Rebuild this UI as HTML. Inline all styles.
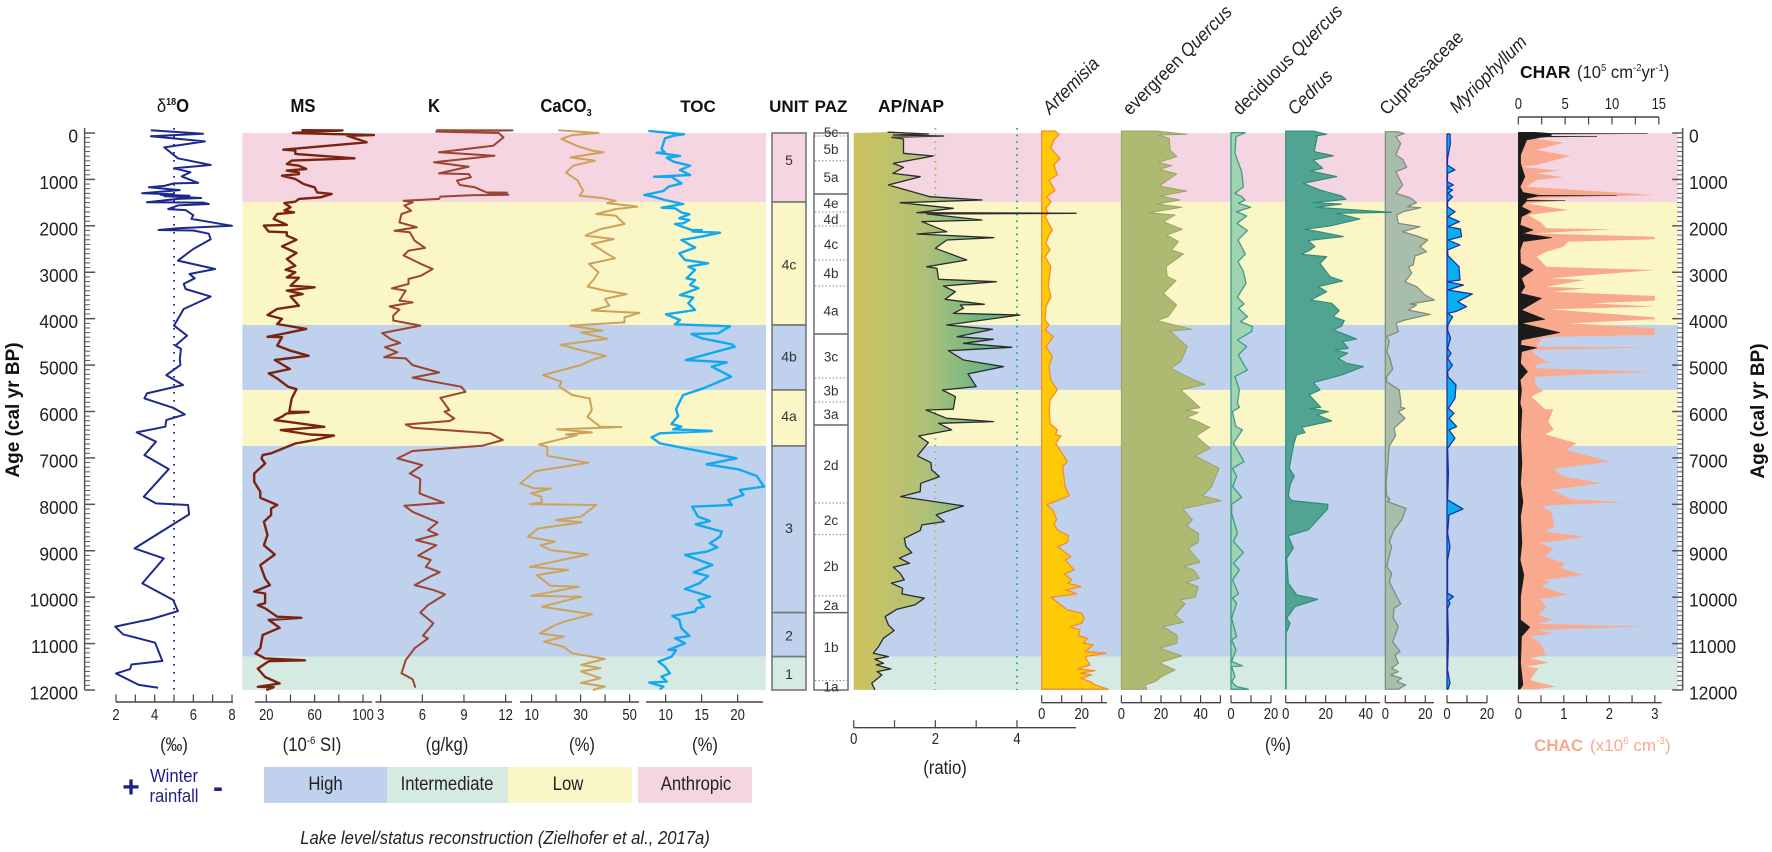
<!DOCTYPE html>
<html lang="en">
<head>
<meta charset="utf-8">
<title>Lake record multi-proxy diagram</title>
<style>
html,body{margin:0;padding:0;background:#fff;}
svg{display:block;font-family:"Liberation Sans",sans-serif;}
</style>
</head>
<body>
<svg id="chart" width="1772" height="852" viewBox="0 0 1772 852" xmlns="http://www.w3.org/2000/svg">
<defs>
<linearGradient id="apGrad" gradientUnits="userSpaceOnUse" x1="854" y1="0" x2="995" y2="0">
<stop offset="0" stop-color="#cfc25e"/><stop offset="0.5" stop-color="#b0c178"/><stop offset="1" stop-color="#5fb388"/>
</linearGradient>
</defs>
<g id="bands"></g>
<g id="marks"></g>
<g id="axes"></g>

<g fill="#111" text-anchor="middle" font-weight="bold" font-size="18.5">
<text transform="translate(173,112) scale(.9,1)"><tspan font-weight="normal">δ</tspan><tspan font-size="10" dy="-7">18</tspan><tspan dy="7">O</tspan></text>
<text transform="translate(303,112) scale(.9,1)">MS</text>
<text transform="translate(434,112) scale(.9,1)">K</text>
<text transform="translate(566,112) scale(.9,1)">CaCO<tspan font-size="10" dy="4">3</tspan></text>
<text x="698" y="112" font-size="17">TOC</text>
<text x="789" y="112" font-size="17">UNIT</text>
<text x="831" y="112" font-size="17">PAZ</text>
<text x="911" y="112" font-size="17.5">AP/NAP</text>
</g>

<g fill="#222" font-style="italic" font-size="18.5">
<text transform="translate(1050,115) rotate(-45) scale(.92,1)">Artemisia</text>
<text transform="translate(1130,116) rotate(-45) scale(.92,1)"><tspan font-style="normal">evergreen </tspan>Quercus</text>
<text transform="translate(1240,116) rotate(-45) scale(.92,1)"><tspan font-style="normal">deciduous </tspan>Quercus</text>
<text transform="translate(1295,116) rotate(-45) scale(.92,1)">Cedrus</text>
<text font-style="normal" transform="translate(1387,116) rotate(-45) scale(.92,1)">Cupressaceae</text>
<text transform="translate(1457,114) rotate(-45) scale(.92,1)">Myriophyllum</text>
</g>

<text x="1520" y="78" font-size="17.5" font-weight="bold" fill="#111">CHAR</text>
<text transform="translate(1577,78) scale(.95,1)" font-size="17.5" fill="#222">(10<tspan font-size="10" dy="-7">5</tspan><tspan dy="7"> cm</tspan><tspan font-size="10" dy="-7">-2</tspan><tspan dy="7">yr</tspan><tspan font-size="10" dy="-7">-1</tspan><tspan dy="7">)</tspan></text>

<text transform="translate(19,410) rotate(-90)" text-anchor="middle" font-size="19" font-weight="bold" fill="#111">Age (cal yr BP)</text>
<text transform="translate(1764,411) rotate(-90)" text-anchor="middle" font-size="19" font-weight="bold" fill="#111">Age (cal yr BP)</text>

<g fill="#222" text-anchor="middle" font-size="19">
<text transform="translate(174,751) scale(.88,1)">(‰)</text>
<text transform="translate(312,751) scale(.88,1)">(10<tspan font-size="11" dy="-7">-6</tspan><tspan dy="7"> SI)</tspan></text>
<text transform="translate(447,751) scale(.88,1)">(g/kg)</text>
<text transform="translate(582,751) scale(.88,1)">(%)</text>
<text transform="translate(705,751) scale(.88,1)">(%)</text>
<text transform="translate(1278,751) scale(.88,1)">(%)</text>
<text transform="translate(945,774) scale(.88,1)">(ratio)</text>
</g>
<text x="1534" y="751" font-size="17" font-weight="bold" fill="#f9a98e">CHAC</text>
<text x="1590" y="751" font-size="17" fill="#f9a98e">(x10<tspan font-size="10" dy="-7">6</tspan><tspan dy="7"> cm</tspan><tspan font-size="10" dy="-7">-3</tspan><tspan dy="7">)</tspan></text>

<g fill="#1f1f8a" text-anchor="middle">
<text x="131" y="797" font-size="30" font-weight="bold">+</text>
<text transform="translate(174,782) scale(.9,1)" font-size="18.5">Winter</text>
<text transform="translate(174,802) scale(.9,1)" font-size="18.5">rainfall</text>
<text x="218" y="797" font-size="30" font-weight="bold">-</text>
</g>

<g>
<rect x="264" y="767" width="123" height="36" fill="#bfd1ec"/>
<rect x="387" y="767" width="121" height="36" fill="#d6eae4"/>
<rect x="508" y="767" width="124" height="36" fill="#fbf6c6"/>
<rect x="638" y="767" width="114" height="36" fill="#f6d5e2"/>
<g fill="#222" text-anchor="middle" font-size="19">
<text transform="translate(325.5,790) scale(.88,1)">High</text>
<text transform="translate(447,790) scale(.88,1)">Intermediate</text>
<text transform="translate(568,790) scale(.88,1)">Low</text>
<text transform="translate(696,790) scale(.88,1)">Anthropic</text>
</g>
</g>
<text transform="translate(505,844) scale(.9,1)" text-anchor="middle" font-size="18.5" font-style="italic" fill="#222">Lake level/status reconstruction (Zielhofer et al., 2017a)</text>
</svg>

<script>
// ---------- chart data ----------
const bandStarts=[0,1486,4136,5536,6742,11281];
const bandEnds=[1486,4136,5536,6742,11281,12000];
const bandLevels=['anthropic','low','high','low','high','intermediate'];
const ageTicks=[0,1000,2000,3000,4000,5000,6000,7000,8000,9000,10000,11000,12000];

const unitStarts=[0,1486,4136,5536,6742,10333,11281];
const unitEnds=[1486,4136,5536,6742,10333,11281,12000];
const unitLabels=['5','4c','4b','4a','3','2','1'];
const unitLabelAges=[580,2830,4820,6100,8510,10830,11650];
const unitLevels=['anthropic','low','high','low','high','high','intermediate'];

const pazSolid=[1314,4330,6290,10333];
const pazDotted=[65,597,1702,2003,2736,3296,5277,5794,7970,8653,9973,11798];
const pazLabels=['5c','5b','5a','4e','4d','4c','4b','4a','3c','3b','3a','2d','2c','2b','2a','1b','1a'];
const pazLabelAges=[-20,340,950,1508,1852,2391,3016,3828,4819,5551,6053,7151,8336,9327,10167,11072,11927];

const d18oAges=[-60,15,70,180,310,545,690,760,845,935,
1075,1085,1140,1170,1230,1300,1320,1330,1350,1360,
1400,1420,1490,1500,1530,1560,1640,1660,1770,1850,
1900,2000,2050,2090,2100,2170,2290,2500,2750,2930,
3037,3130,3252,3360,3525,3791,4150,4365,4580,4652,
4868,5000,5215,5430,5610,5718,5920,6063,6185,6328,
6450,6650,6940,7240,7836,7980,8015,8216,8950,9165,
9703,10062,10300,10470,10635,10800,10980,11375,11450,11550,
11645,11890,11950];
const d18oValues=[3.8,6.5,3.8,6.6,4.5,5.2,6.9,5.0,5.85,5.4,
6.25,5.0,4.5,3.7,5.3,3.35,5.0,4.3,5.8,4.5,
6.4,5.2,3.6,6.5,6.8,5.2,4.7,5.6,6.0,5.9,
6.6,8.0,5.2,4.2,6.0,6.8,6.9,6.0,5.2,7.13,
5.8,6.07,5.5,5.6,6.9,5.5,5.0,5.67,5.07,5.36,
5.3,5.33,4.6,5.47,3.6,3.47,4.96,5.56,4.6,4.55,
3.07,4.07,3.47,4.73,3.44,4.07,5.73,5.78,2.96,4.47,
3.36,4.96,5.2,3.84,1.96,2.36,4.02,4.4,2.8,2.73,
2.0,3.18,4.18];

const msAges=[-60,-55,0,45,60,200,240,360,380,450,
525,545,595,670,705,775,810,850,885,920,
990,1100,1170,1280,1315,1385,1420,1480,1510,1600,
1670,1710,1745,1850,1980,1995,2125,2140,2210,2300,
2440,2585,2715,2860,2945,3000,3110,3120,3290,3325,
3395,3470,3520,3720,3790,3920,4005,4115,4220,4330,
4390,4400,4580,4690,4800,4890,5085,5180,5290,5465,
5520,5720,6005,6010,6040,6110,6185,6255,6330,6400,
6495,6520,6615,6690,6900,6940,7010,7120,7335,7515,
7730,7860,8015,8090,8230,8375,8660,8880,9080,9310,
9595,9740,9880,9920,10130,10170,10240,10420,10445,10490,
10660,10815,11100,11210,11320,11360,11380,11540,11720,11860,
11930,11940,12000];
const msValues=[49,83,42,109,87,103,87,34,44,44,
83,93,41,37,47,53,37,47,47,33,
44,51,60,62,74,65,47,44,35,40,
35,43,29,26,37,18,22,37,37,45,
33,45,37,44,36,44,37,47,40,60,
37,50,40,47,29,21,33,29,53,33,
21,33,29,40,55,27,39.5,22,29,38,
45,41,39,55,37,33,27,47,68,32,
56,76,60,44,24,17,16,19,10,10,
15,15,29,24,24,18,21,18,27,15,
19,23,10,19,19,13,19,29,49,22,
31,17,15,11,19,52,22,13,19,31,
13,26,20];

const kAges=[-60,-55,-30,0,95,275,415,490,630,725,
775,870,885,955,1025,1120,1170,1280,1285,1315,
1330,1340,1370,1420,1460,1495,1565,1675,1745,1925,
2030,2105,2140,2320,2475,2535,2640,2820,2930,3075,
3145,3250,3345,3395,3610,3650,3735,3805,3935,4040,
4150,4310,4435,4525,4615,4725,4830,4855,5000,5160,
5270,5360,5465,5575,5705,5970,6005,6150,6205,6280,
6350,6470,6615,6740,6850,7010,7155,7335,7455,7765,
7965,8030,8160,8390,8555,8650,8770,8880,9105,9200,
9345,9465,9560,9740,9850,9940,10170,10330,10565,10830,
10890,11100,11355,11640,11770,11950];
const kValues=[7.0,12.5,7.0,11.5,11.85,11.1,7.2,11.2,6.85,9.35,
8.6,7.2,9.35,9.5,8.5,8.7,9.8,10.6,12.1,10.75,
12.2,9.5,7.3,7.2,4.65,5.3,4.7,5.2,4.5,4.35,
5.6,4.0,5.1,5.45,6.2,5.0,4.65,5.9,6.75,5.9,
5.0,5.0,3.8,4.8,4.35,5.3,3.65,4.35,3.9,3.9,
5.85,3.1,3.7,4.4,3.3,4.2,3.25,4.8,5.3,7.2,
5.3,6.85,8.8,9.1,7.3,7.95,7.6,8.3,7.95,4.8,
5.3,10.9,11.8,10.3,5.3,4.2,6.0,5.1,5.85,5.8,
7.55,4.7,5.3,7.1,6.4,7.1,5.55,7.0,5.7,6.6,
6.25,7.25,6.55,5.45,6.85,7.65,6.4,5.85,6.8,6.05,
6.4,5.45,4.8,4.5,5.3,5.5];

const caco3Ages=[-60,0,45,130,275,380,415,525,595,705,
850,1025,1240,1350,1400,1460,1510,1585,1640,1745,
1780,1960,2070,2210,2285,2390,2570,2700,2820,3000,
3145,3310,3395,3470,3575,3720,3825,3875,3970,4080,
4150,4260,4295,4435,4560,4690,4800,4890,5000,5215,
5360,5465,5645,5720,5970,6115,6330,6335,6385,6450,
6495,6510,6710,6760,6955,7105,7285,7550,7655,7660,
7765,7835,7960,7995,8015,8265,8340,8390,8520,8700,
8805,8880,8985,9080,9345,9415,9525,9755,9775,9970,
9990,10205,10370,10530,10600,10780,10850,10960,11070,11210,
11330,11460,11530,11600,11745,11850,11925,12000];
const caco3Values=[20.8,37.3,26.6,22.2,28.4,34.6,39.4,25.8,35.8,27,
24,28.8,31,29.6,39,44.3,40.8,53.2,44.3,36.4,
44.3,47.9,38.1,32,43.5,34.6,39.9,44,33.4,37.3,
35.5,32.8,39.9,48.8,39.9,41.7,34.6,54,47.9,47.9,
25.8,39,30.2,40.8,21.7,31,40.4,34.6,30,14.6,
22.2,21.3,26.6,33.7,34.6,32.8,38.1,46.6,20.4,34.6,
24,28.4,13,16.4,16.4,33.2,11.6,5.4,11,17.8,
9.8,13.9,14.3,9.3,36.4,30.2,19.9,30.5,12.5,8.6,
19.6,13.7,17.8,32.8,9.3,24.9,12.1,17.8,29.3,9.8,
30.2,14.3,34.6,23.1,19.6,13.4,23.1,15.1,23.1,26.6,
39.9,30.2,38.1,30.2,38.1,30.2,39.9,35];

const tocAges=[-45,-14,29,58,115,345,417,424,496,532,
618,704,797,905,941,945,1085,1156,1250,1336,
1372,1444,1530,1610,1623,1710,1752,1838,1874,1946,
1960,2090,2095,2125,2147,2233,2305,2470,2592,2736,
2808,2880,2950,3130,3167,3275,3346,3490,3547,3670,
3813,3870,3906,4028,4122,4165,4315,4330,4423,4553,
4603,4890,4940,5034,5249,5500,5644,5716,5953,6096,
6270,6326,6383,6420,6470,6556,6685,7008,7137,7245,
7389,7618,7690,7798,7906,8013,8050,8265,8358,8430,
8588,8695,8839,8925,9020,9090,9306,9464,9543,9700,
9823,9988,10060,10203,10239,10311,10404,10490,10670,10835,
10885,10993,11137,11140,11280,11388,11495,11640,11711,11818,
11840,11927,11984];
const tocValues=[7.6,9.9,12.55,11.1,9.9,9.45,9.9,8.75,12,10.15,
11.1,13.4,12,13.4,8.4,10.85,12.2,10.4,9.7,7.05,
8.3,9.9,12.45,9.45,11.3,12.2,13.3,11.9,13.3,12.45,
11.3,13.6,15,13.75,17.55,15,12.2,14.1,11.9,12.7,
15.9,13.15,14.1,12.9,14.1,13.4,14.55,12,13.85,13.15,
14.1,11.75,10.05,12,11.3,18.95,17.3,13.6,15,19.2,
19.6,12.8,18.5,16.4,19.1,15.25,12.45,12.2,11.45,11.75,
10.8,12.2,11.05,16.4,9.2,8.06,9.2,19.85,15.7,20.1,
22.65,23.65,20.3,20.8,18.7,19.2,13.7,14.5,16.15,14.2,
17.8,17.55,16.15,17.2,15.7,12.7,16.5,13.9,15.9,14.7,
12.7,16.2,14.55,15.3,14.3,14.1,10.95,11.9,12.2,13.3,
11.3,12.7,10.4,11.45,10.85,9,9.9,10.6,9.45,10.15,
7.74,9.7,9.2];

const apAges=[-20,22,43,65,94,130,438,496,654,740,
870,941,1120,1214,1372,1444,1501,1623,1716,1731,
1745,1874,1910,2126,2176,2255,2305,2485,2736,2880,
2916,3152,3203,3296,3418,3583,3690,3705,3777,3885,
3920,4136,4230,4388,4445,4531,4617,4690,4890,5033,
5190,5464,5536,5680,5950,5967,6146,6218,6254,6397,
6527,6670,6957,7101,7259,7403,7546,7726,7833,8034,
8228,8372,8444,8566,8731,8910,9040,9161,9270,9355,
9485,9628,9700,9808,9930,10023,10167,10260,10418,10598,
10720,10885,11065,11208,11280,11337,11423,11459,11545,11603,
11675,11854,11998];
const apValues=[.83,1.83,.97,2.2,.93,1.22,1.22,1.95,.97,1.22,
.96,1.63,.85,1.22,1.87,3.14,1.14,2.44,1.55,5.45,
1.8,3.14,1.67,2.28,1.55,3.43,2.28,2,2.77,1.79,
2.04,2.08,3.49,2.2,2.49,2.24,3.2,2.61,2.69,2.44,
4.07,2.28,3.4,2.53,3.42,2.69,3.87,2.32,2.69,3.67,
2.8,3.0,2.17,2.49,2.44,1.77,2.28,3.42,2.08,2.4,
1.59,1.83,1.56,1.89,1.91,2.1,1.64,1.63,1.15,2.69,
2.02,2.22,1.67,1.63,1.24,1.28,1.42,1.12,1.37,.97,
1.14,1.24,.92,1.2,1.18,1.73,1.5,1.06,.77,.85,
.99,.73,.61,.48,.85,.52,.73,.55,.91,.57,
.69,.44,.52];

const artemisiaAges=[-43,29,151,330,546,689,905,1012,1242,1371,
1479,1622,1730,1802,2089,2233,2376,2520,2664,2879,
3310,3525,3741,4028,4135,4243,4387,4602,4818,5033,
5320,5536,5751,5967,6254,6397,6505,6519,6685,7080,
7187,7618,7812,7869,8013,8120,8336,8422,8551,8673,
8817,8910,9126,9198,9413,9499,9628,9700,9772,9844,
9930,10002,10275,10346,10454,10562,10634,10706,10827,10885,
10993,11029,11172,11208,11280,11459,11545,11581,11639,11675,
11747,11818,11890,11983];
const artemisiaValues=[6.65,8.65,6.15,4.5,9.15,6.15,7.8,3.65,6.65,2.5,
4.65,2,3.3,1.65,5.3,3.3,2.15,4.15,1.65,4.5,
3.3,4.65,2.15,1.65,3.65,1.65,5.8,2.15,5.3,3.65,
4.5,7.8,4.15,3.8,4.15,7.8,6.9,9.65,7,12.8,
10.5,11.65,13.8,10.5,2.5,5.5,7.5,6.15,7.8,13.3,
13,8,14.5,11.65,16.3,11.3,15,13,19.65,12.15,
17.5,4.65,12.8,20,21.15,20,14.15,19.15,18.3,22.8,
20.8,25.8,21.65,32.15,21.65,24.15,18,26.65,19.15,25,
19.65,24.15,26.65,33.3];

const evergreenAges=[-43,29,43,115,366,510,632,704,782,883,
1141,1249,1357,1443,1529,1601,1716,1766,1910,2075,
2197,2340,2520,2606,2879,3094,3181,3453,3705,3956,
4042,4229,4265,4602,4925,5069,5306,5414,5536,5916,
5967,6024,6132,6218,6340,6527,6792,6957,7223,7618,
7819,7920,8099,8336,8465,8623,8817,8946,9248,9341,
9413,9592,9686,9772,10002,10059,10152,10382,10540,10634,
10813,10885,10993,11100,11265,11387,11423,11567,11711,11818,
11890,11983];
const evergreenValues=[17.5,33,18.7,24.2,24.6,28,18.7,25.4,19.5,27.9,
19.2,33,19.5,29.6,17.9,30.5,13.6,27.1,21.2,30.8,
22.9,28.8,25.4,31.3,22.6,23.2,27.6,21.2,27.9,23.7,
17.9,35.5,24.6,33.3,30,24.9,35.9,42.3,30,39.7,
33,38.9,33,38.6,44.5,37.7,44.8,37.2,49.3,45.6,
41.1,50.3,31,35.9,33,38.9,38.9,33.8,39.7,31.3,
36.4,39.4,32.7,38.9,37.2,29.6,32.2,27.1,31.3,20.9,
28,28.3,28,19.5,30.5,21.2,19.5,27.1,20.4,17,
12,12.8];

const deciduousAges=[-8,79,438,833,1156,1299,1371,1443,1515,1601,
1694,1788,1945,2103,2304,2448,2606,2771,2987,3238,
3540,3683,3777,3956,4064,4171,4279,4459,4602,4782,
5033,5105,5249,5536,5823,5909,6002,6326,6397,6685,
7080,7223,7403,7618,7848,7999,8193,8623,8803,9040,
9269,9413,9628,9930,10023,10132,10454,10849,10921,11136,
11387,11481,11495,11711,11818,11926,11983];
const deciduousValues=[7,2.5,2,5.3,6.2,2,5.3,7,3.7,9.8,
2.8,7.8,3,8.2,3.5,5.2,7.2,3.5,6.2,7.5,
3.2,6.5,3.7,8.2,4.8,10.7,10.3,3.2,7.8,3.7,
7,8.2,2,4.2,3.2,4.2,.7,2.5,5.7,1.2,
6.5,.8,2.8,.8,5.3,.3,.3,3.2,1.2,6.2,
1.2,4.2,.8,3.7,.8,2.8,.3,2.8,.3,2.5,
.3,5.7,.3,2,.3,2.8,8.7];

const cedrusAges=[-43,29,64,79,402,488,581,761,818,940,
1084,1228,1357,1429,1501,1529,1601,1708,1730,1852,
2003,2075,2125,2233,2319,2448,2520,2613,2664,2807,
3094,3188,3310,3418,3597,3669,3827,3956,4042,4157,
4243,4437,4494,4638,4674,4746,4853,4961,5033,5213,
5378,5536,5643,5909,5931,6002,6074,6203,6340,6455,
6505,6685,6936,7223,7388,7582,7819,7920,8000,8099,
8551,8681,8946,9162,9700,9952,10045,10203,10454,10562,
10777,11976];
const cedrusValues=[13.8,20.5,14.65,15.8,14.3,23.8,13.8,18.5,12.5,25.5,
8.8,17.2,28,30.15,13.8,28,15.5,53,25.5,37.15,
22.15,9.65,16.3,28.8,11.3,14.65,12.15,8,20.5,17.15,
22.15,28.5,16.3,20.5,12.65,23,26.8,23.8,29.3,28,
23.8,35.5,28.5,31.3,24.65,31,26.3,30.5,38.8,28,
13.8,17.15,11.8,17.5,12.15,21.3,15.8,23,8,9.65,
5.5,4.15,3,1.8,4.3,2.2,1.3,3,21,21,
11.3,1.3,3.8,.5,1.3,5.5,16,4.65,.5,2.2,
.2,.2];

const cupressAges=[-28,8,80,223,475,568,740,833,1121,1300,
1394,1501,1587,1609,1695,1767,1946,2018,2126,2219,
2305,2449,2557,2650,2844,2880,3023,3203,3311,3490,
3598,3684,3705,3813,3906,4029,4100,4280,4388,4495,
4711,4854,5091,5249,5356,5536,5823,5909,5931,6002,
6146,6361,6519,6742,7259,7546,7819,7891,7941,8085,
8336,8551,8803,8910,9341,9485,9664,9987,10145,10239,
10454,10634,10957,11172,11244,11423,11531,11603,11675,11746,
11818,11890,11983];
const cupressValues=[5.7,9.5,5.3,7.7,5.3,8.7,10.7,5.3,8.7,5.3,
12.35,15.7,11,17.7,9,5.7,6.5,17.35,8.7,15.7,
21.2,17.35,20.65,14.85,14,11.5,13.2,9.85,15.7,19.85,
24.5,12.35,15.7,11.5,22.35,9.85,5.3,6.5,.7,2,
.7,2.35,3.7,.7,.7,7,7.85,7.7,9.85,6.5,
9.85,4.35,5.2,2,1,.35,.7,2.35,1,10.35,
8.2,4.35,2,3.2,.7,3.2,2,5.7,7.7,4.35,
4,6.5,3.7,7.35,4.85,6.5,3.2,6.5,2.7,8.2,
5.7,10.2,6.5];

const myrioAges=[22,223,546,690,798,869,1049,1121,1178,1228,
1300,1372,1480,1588,1695,1803,1911,2018,2069,2234,
2305,2413,2521,2643,2880,3167,3203,3275,3382,3469,
3634,3742,3849,3885,3957,4136,4244,4423,4639,4746,
4854,5000,5141,5249,5428,5715,5931,6038,6146,6326,
6397,6577,6792,7331,7905,8099,8228,8623,8910,9198,
9916,9987,10073,10132,10239,10921,11567,11854,11983];
const myrioValues=[1.5,1.7,.3,.2,4,.3,.2,3.2,.3,2.8,
.5,2.8,.3,.3,4,.5,6.2,.5,6.7,7.3,
.5,6.5,.3,.5,6,6.5,.2,8.2,.5,12.7,
5.3,9.8,4.2,.5,2.8,.5,.3,1.8,.3,2,
.3,2.7,.3,.5,4.5,4,.7,3.5,1,4.85,
1,4,.3,.7,.3,8,1,.3,1.5,.3,
.3,3.2,.7,1.5,.3,.7,.3,1.5,.5];

const chacAges=[30,80,209,367,496,690,726,812,869,955,
1013,1157,1336,1408,1458,1516,1659,1767,1932,2054,
2076,2162,2234,2291,2341,2449,2557,2665,2880,2952,
3131,3167,3311,3347,3418,3512,3612,3670,3742,3799,
3971,4014,4100,4208,4352,4388,4423,4603,4617,4675,
4782,4854,4940,4998,5070,5142,5249,5428,5550,5680,
5952,5953,6218,6397,6491,6685,6828,7080,7238,7403,
7546,7690,7891,7955,8013,8049,8156,8480,8587,8695,
8839,8946,9126,9270,9377,9521,9628,9664,9772,9952,
10045,10217,10382,10490,10577,10634,10706,10777,10849,10957,
11029,11244,11316,11409,11495,11531,11782,11818,11926,11983];
const chacValues=[.05,.11,.99,.4,1.14,.4,.07,.92,.4,.99,
.4,.18,3.0,.18,.99,.18,1.1,.22,.51,.62,
2.09,.33,3.0,3.0,1.1,.99,.62,.4,.62,3.0,
.7,1.47,.62,1.5,.77,3,3,1.61,3,.7,
3,3,1.14,3,3,.77,.51,.4,3,.29,
.4,.48,.68,.37,.4,2.93,.37,.37,.55,.29,
.59,.77,.66,.78,.59,1.28,1.06,2,.77,.99,
1.83,.73,1.17,2.34,.84,.51,.73,.79,.59,1.47,
.48,.78,.59,1.03,.92,1.43,.59,.68,.51,1.08,
.48,.62,.44,.77,.4,2.78,.4,.77,.26,.44,
.51,.62,.26,.68,.18,.44,.26,.37,.84,.4];

const charAges=[-15,-5,8,15,22,50,72,78,84,95,
151,475,654,941,1157,1280,1342,1350,1358,1408,
1450,1458,1466,1588,1695,1803,1982,2090,2162,2255,
2341,2521,2808,2952,3131,3311,3454,3562,3813,4014,
4100,4301,4460,4567,4625,4711,4962,5142,5321,5536,
5823,5967,6541,7115,7546,7955,8264,8839,9198,9521,
9987,10490,10648,10849,11423,11890,11983];
const charValues=[1.8,2.6,3.4,13.8,3.4,3.6,3,8.4,3,2.4,
.9,.25,.25,.7,.2,.5,2.2,10.5,2.2,.9,
.9,5,.9,.35,1.4,.35,.2,1.6,.5,3.6,
.5,.2,.25,1.6,.35,.7,.25,2.5,.35,2.85,
.35,4.45,.35,.25,2,.35,.25,1,.2,.35,
.2,.4,.25,.4,.25,.5,.25,.4,.2,.6,
.25,.25,1.25,.35,.25,.5,.2];

const d18oTicks=[2,3,4,5,6,7,8];
const d18oTickLabels=['2','4','6','8'];
const msTicks=[20,40,60,80,100];
const msTickLabels=['20','60','100'];
const kTicks=[3,6,9,12];
const kTickLabels=['3','6','9','12'];
const caco3Ticks=[10,20,30,40,50];
const caco3TickLabels=['10','30','50'];
const tocTicks=[10,15,20];
const tocTickLabels=['10','15','20'];
const apTicks=[0,1,2,3,4];
const apTickLabels=['0','2','4'];
const artemisiaTicks=[0,10,20,30];
const evergreenTicks=[0,10,20,30,40,50];
const deciduousTicks=[0,10,20];
const cedrusTicks=[0,10,20,30,40];
const cupressTicks=[0,10,20];
const myrioTicks=[0,10,20];
const pollenTickLabelsA=['0','20'];
const pollenTickLabelsB=['0','20','40'];
const chacTicks=[0,.5,1,1.5,2,2.5,3];
const chacTickLabels=['0','1','2','3'];
const charTicks=[0,2.5,5,7.5,10,12.5,15];
const charTickLabels=['0','5','10','15'];

// ---------- scales ----------
const SVGNS='http://www.w3.org/2000/svg';
const levelColor={anthropic:'#f6d5e2',low:'#fbf6c6',high:'#bfd1ec',intermediate:'#d6eae4'};
const yAge=a=>133+a*557/12000;
const scale=(v0,x0,v1,x1)=>v=>x0+(v-v0)*(x1-x0)/(v1-v0);
const xD18o=scale(2,116,8,232);
const xMs=scale(20,266.3,100,363);
const xK=scale(3,380.7,12,505.6);
const xCaco3=scale(10,531.6,50,629.6);
const xToc=scale(10,665.6,20,737.6);
const xAp=scale(0,853.7,4,1017);
const xArtemisia=scale(0,1041.7,20,1081.7);
const xEvergreen=scale(0,1121.4,40,1200.6);
const xDeciduous=scale(0,1231,20,1271);
const xCedrus=scale(0,1285.7,40,1365.7);
const xCupress=scale(0,1385.3,20,1425.3);
const xMyrio=scale(0,1447,20,1487);
const xChac=scale(0,1518.3,3,1654.8);
const xChar=scale(0,1518.3,15,1658.8);

const bandsG=document.getElementById('bands');
const marksG=document.getElementById('marks');
const axesG=document.getElementById('axes');

function mk(tag,attrs,parent){
  const el=document.createElementNS(SVGNS,tag);
  for(const k in attrs) el.setAttribute(k,attrs[k]);
  parent.appendChild(el);
  return el;
}
function label(str,x,y,size,sx,anchor,parent,fill){
  const el=mk('text',{transform:'translate('+x+','+y+') scale('+sx+',1)','text-anchor':anchor,'font-size':size,fill:fill||'#222'},parent);
  el.textContent=str;
  return el;
}

// ---------- bands ----------
bandStarts.forEach((a,i)=>{
  const h=yAge(bandEnds[i])-yAge(a);
  const left=mk('rect',{x:242.4,y:yAge(a),width:523.6,height:h,fill:levelColor[bandLevels[i]]},bandsG);
  
  
  const right=mk('rect',{x:854,y:yAge(a),width:824,height:h,fill:levelColor[bandLevels[i]]},bandsG);
  
  
});

// ---------- dotted reference lines ----------
const d18oRef=mk('line',{x1:xD18o(5),x2:xD18o(5),y1:128,y2:690,stroke:'#3434a4','stroke-width':2,'stroke-dasharray':'1.6 6.4'},marksG);


const apRef2=mk('line',{x1:xAp(2),x2:xAp(2),y1:128,y2:690,stroke:'#93c25a','stroke-width':2,'stroke-dasharray':'1.6 5'},marksG);


const apRef4=mk('line',{x1:xAp(4),x2:xAp(4),y1:128,y2:690,stroke:'#35a68a','stroke-width':2,'stroke-dasharray':'1.6 5'},marksG);



// ---------- marks ----------
function curveD(ages,vals,xf){
  const n=Math.min(ages.length,vals.length);
  let d='';
  for(let i=0;i<n;i++) d+=(i?'L':'M')+xf(vals[i]).toFixed(1)+' '+yAge(ages[i]).toFixed(1);
  return d;
}
function drawLine(ages,vals,xf,color,w){
  return mk('path',{d:curveD(ages,vals,xf),fill:'none',stroke:color,'stroke-width':w,'stroke-linejoin':'round'},marksG);
}
function drawArea(ages,vals,xf,fill,stroke,w){
  const n=Math.min(ages.length,vals.length);
  const d='M'+xf(0)+' '+yAge(ages[0])+'L'+curveD(ages,vals,xf).slice(1)+'L'+xf(0)+' '+yAge(ages[n-1])+'Z';
  return mk('path',{d:d,fill:fill,stroke:stroke,'stroke-width':w,'stroke-linejoin':'round'},marksG);
}

const d18oLine=drawLine(d18oAges,d18oValues,xD18o,'#1c2a8c',2);


const msLine=drawLine(msAges,msValues,xMs,'#7a2410',2.4);


const kLine=drawLine(kAges,kValues,xK,'#9c4432',2);


const caco3Line=drawLine(caco3Ages,caco3Values,xCaco3,'#cda25c',2);


const tocLine=drawLine(tocAges,tocValues,xToc,'#11a9f0',2.4);



const artemisiaArea=drawArea(artemisiaAges,artemisiaValues,xArtemisia,'#fdca05','#f58b32',1.3);


const evergreenArea=drawArea(evergreenAges,evergreenValues,xEvergreen,'#aeba72','#9ba268',1);


const deciduousArea=drawArea(deciduousAges,deciduousValues,xDeciduous,'#9fd4b0','#3f9b8a',1.3);


const cupressArea=drawArea(cupressAges,cupressValues,xCupress,'#a9bdad','#7e8a78',1.2);


const cedrusArea=drawArea(cedrusAges,cedrusValues,xCedrus,'#50a491','#2f8a78',1.1);


const myrioArea=drawArea(myrioAges,myrioValues,xMyrio,'#07aef0','#1a2aa0',1.2);


const chacArea=drawArea(chacAges,chacValues,xChac,'#f9a98e','none',0);


const charArea=drawArea(charAges,charValues,xChar,'#1b1b1b','#1b1b1b',.5);



const apN=Math.min(apAges.length,apValues.length);
const apFill=mk('path',{d:'M'+xAp(0)+' '+yAge(0)+'L'+curveD(apAges,apValues,xAp).slice(1)+'L'+xAp(0)+' '+yAge(apAges[apN-1])+'Z',fill:'url(#apGrad)',stroke:'none'},marksG);


const apLine=drawLine(apAges,apValues,xAp,'#2b2b2b',1.3);



// ---------- unit and PAZ columns ----------
unitStarts.forEach((a,i)=>{
  const box=mk('rect',{x:772,y:yAge(a),width:34,height:yAge(unitEnds[i])-yAge(a),fill:levelColor[unitLevels[i]],stroke:'#777','stroke-width':1.6},axesG);
  
  
  const t=label(unitLabels[i],789,yAge(unitLabelAges[i])+5,14,1,'middle',axesG,'#333');
  
  
});
const pazBox=mk('rect',{x:814,y:yAge(0),width:34,height:yAge(12000)-yAge(0),fill:'#fff',stroke:'#777','stroke-width':1.6},axesG);


pazDotted.forEach(a=>{
  const l=mk('line',{x1:815,x2:847,y1:yAge(a),y2:yAge(a),stroke:'#888','stroke-width':1,'stroke-dasharray':'1.5 2'},axesG);
  
  
});
pazSolid.forEach(a=>{
  const l=mk('line',{x1:814,x2:848,y1:yAge(a),y2:yAge(a),stroke:'#666','stroke-width':1.5},axesG);
  
  
});
pazLabels.forEach((s,i)=>{
  const t=label(s,831,yAge(pazLabelAges[i])+5,13.5,1,'middle',axesG,'#333');
  
  
});

// ---------- age axes ----------
function drawAgeAxis(axisX,dir,labelX,anchor){
  const ax=mk('line',{x1:axisX,x2:axisX,y1:128,y2:690,stroke:'#555','stroke-width':1.5},axesG);
  
  
  for(let a=0;a<=12000;a+=100){
    const major=a%1000===0;
    const t=mk('line',{x1:axisX,x2:axisX+dir*(major?10.5:5.5),y1:yAge(a),y2:yAge(a),stroke:'#555','stroke-width':major?1.5:1},axesG);
    
    
  }
  ageTicks.forEach(a=>{
    const t=label(String(a),labelX,yAge(a)+9.5,18.5,.94,anchor,axesG,'#222');
    
    
  });
}
drawAgeAxis(84.6,1,78,'end');
drawAgeAxis(1682.7,-1,1689,'start');

// ---------- value axes ----------
function drawValueAxis(xf,ticks,labels,lineY,x0,x1,labelY,sign){
  const ax=mk('line',{x1:x0,x2:x1,y1:lineY,y2:lineY,stroke:'#444','stroke-width':1.4},axesG);
  
  
  ticks.forEach(v=>{
    const t=mk('line',{x1:xf(v),x2:xf(v),y1:lineY,y2:lineY-sign*7.5,stroke:'#444','stroke-width':1.2},axesG);
    
    
  });
  labels.forEach(s=>{
    const t=label(s,xf(parseFloat(s)),labelY,15.5,.84,'middle',axesG,'#222');
    
    
  });
}
drawValueAxis(xD18o,d18oTicks,d18oTickLabels,702,116,233,720,1);
drawValueAxis(xMs,msTicks,msTickLabels,702,255,372,720,1);
drawValueAxis(xK,kTicks,kTickLabels,702,375.5,512,720,1);
drawValueAxis(xCaco3,caco3Ticks,caco3TickLabels,702,520,639,720,1);
drawValueAxis(xToc,tocTicks,tocTickLabels,702,646,763,720,1);
drawValueAxis(xAp,apTicks,apTickLabels,727.7,853.7,1076,744,1);
drawValueAxis(xArtemisia,artemisiaTicks,pollenTickLabelsA,702.7,1041.7,1107,719,1);
drawValueAxis(xEvergreen,evergreenTicks,pollenTickLabelsB,702.7,1121.4,1220.7,719,1);
drawValueAxis(xDeciduous,deciduousTicks,pollenTickLabelsA,702.7,1231,1271,719,1);
drawValueAxis(xCedrus,cedrusTicks,pollenTickLabelsB,702.7,1285.7,1380,719,1);
drawValueAxis(xCupress,cupressTicks,pollenTickLabelsA,702.7,1385.3,1434,719,1);
drawValueAxis(xMyrio,myrioTicks,pollenTickLabelsA,702.7,1447,1487,719,1);
drawValueAxis(xChac,chacTicks,chacTickLabels,702.7,1518.3,1661.7,719,1);
drawValueAxis(xChar,charTicks,charTickLabels,117,1518.3,1658.8,109,-1);
</script>
</body>
</html>
